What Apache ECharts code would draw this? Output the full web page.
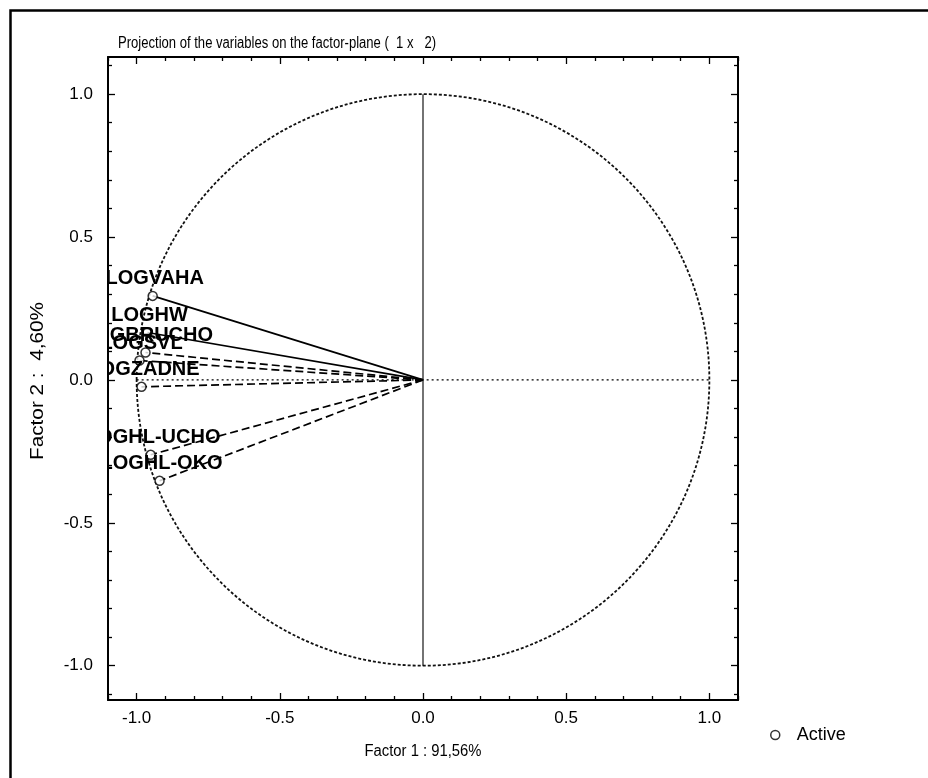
<!DOCTYPE html>
<html>
<head>
<meta charset="utf-8">
<script src="https://cdn.jsdelivr.net/npm/echarts@6/dist/echarts.min.js"></script>
<style>
  html, body { margin: 0; padding: 0; background: #fff; }
  #chart { width: 928px; height: 778px; }
</style>
</head>
<body>
<div id="chart"></div>
<script>
// Variable loadings on the first two factors
const variables = ['LOGVAHA', 'LOGHW', 'LOGBRUCHO', 'LOGSVL', 'LOGZADNE', 'LOGHL-UCHO', 'LOGHL-OKO'];
const factor1 = [-0.944, -0.962, -0.969, -0.990, -0.983, -0.951, -0.920];
const factor2 = [0.294, 0.166, 0.096, 0.068, -0.024, -0.262, -0.353];
const solidVectors = ['LOGVAHA', 'LOGHW'];

// Axis ticks and labels
const majorTicks = [-1.0, -0.5, 0.0, 0.5, 1.0];
const minorTicks = [-1.1, -0.9, -0.8, -0.7, -0.6, -0.4, -0.3, -0.2, -0.1,
                    0.1, 0.2, 0.3, 0.4, 0.6, 0.7, 0.8, 0.9, 1.1];

// Reference lines through the origin and the unit correlation circle
const horizontalAxisLine = [[-1, 0], [1, 0]];
const verticalAxisLine = [[0, 1], [0, -1]];
const unitCircle = [[0, 0, 1]];

const titleText = 'Projection of the variables on the factor-plane (  1 x   2)';
const xName = 'Factor 1 : 91,56%';
const yName = 'Factor 2 :  4,60%';
const legendName = 'Active';

const FONT = '"Liberation Sans", Arial, sans-serif';
const X_RANGE = [-1.1, 1.1];
const Y_RANGE = [-1.12, 1.13];

// Horizontal squeeze factor so a string fills a given width
const measureCtx = document.createElement('canvas').getContext('2d');
function squeeze(text, font, width) {
  measureCtx.font = font;
  return width / measureCtx.measureText(text).width;
}

function makeAxis(dim, position, ticks, tickLen, withLine, withLabels) {
  const range = dim === 'x' ? X_RANGE : Y_RANGE;
  return {
    type: 'value',
    position: position,
    min: range[0],
    max: range[1],
    splitLine: { show: false },
    axisLine: { show: withLine, onZero: false, lineStyle: { color: '#000', width: 2 } },
    axisTick: { show: true, inside: true, length: tickLen, customValues: ticks,
                lineStyle: { color: '#000', width: 1.3 } },
    axisLabel: withLabels ? {
      show: true, customValues: majorTicks, color: '#000', fontSize: 17, fontFamily: FONT,
      formatter: v => Number(v).toFixed(1),
      margin: dim === 'x' ? 10 : 15
    } : { show: false }
  };
}

const xAxes = [
  makeAxis('x', 'bottom', majorTicks, 7, true, true),
  makeAxis('x', 'bottom', minorTicks, 4, false, false),
  makeAxis('x', 'top', majorTicks, 7, true, false),
  makeAxis('x', 'top', minorTicks, 4, false, false)
];
const yAxes = [
  makeAxis('y', 'left', majorTicks, 7, true, true),
  makeAxis('y', 'left', minorTicks, 4, false, false),
  makeAxis('y', 'right', majorTicks, 7, true, false),
  makeAxis('y', 'right', minorTicks, 4, false, false)
];

const vectorSeries = variables.map((name, i) => ({
  type: 'line',
  name: name + ' vector',
  xAxisIndex: 0, yAxisIndex: 0,
  data: [[0, 0], [factor1[i], factor2[i]]],
  symbol: 'none',
  silent: true,
  z: 3,
  lineStyle: {
    color: '#000',
    width: 1.7,
    type: solidVectors.includes(name) ? 'solid' : [8, 4]
  }
}));

const LABEL_FONT = 'bold 20px ' + FONT;
const titleFont = '16px ' + FONT;
const xNameFont = '16px ' + FONT;
const yNameFont = '18px ' + FONT;

const option = {
  animation: false,
  backgroundColor: '#fff',
  grid: { left: 108, top: 57, width: 630, height: 643, containLabel: false },
  xAxis: xAxes,
  yAxis: yAxes,
  legend: {
    data: [legendName],
    left: 765, top: 721,
    itemWidth: 9, itemHeight: 9,
    itemStyle: { color: '#fff', borderColor: '#000', borderWidth: 1.5 },
    textStyle: { color: '#000', fontSize: 18, fontFamily: FONT, padding: [0, 0, 0, 12] }
  },
  graphic: [
    {
      type: 'rect', left: 8, top: 8, silent: true,
      shape: { width: 960, height: 800 },
      style: { fill: 'none', stroke: '#000', lineWidth: 2.5 }
    },
    {
      type: 'text', x: 118, y: 44, silent: true,
      scaleX: squeeze(titleText, titleFont, 318),
      style: { text: titleText, fill: '#000', font: titleFont,
               textAlign: 'left', textVerticalAlign: 'middle' }
    },
    {
      type: 'text', x: 423, y: 752, silent: true,
      scaleX: squeeze(xName, xNameFont, 117),
      style: { text: xName, fill: '#000', font: xNameFont,
               textAlign: 'center', textVerticalAlign: 'middle' }
    },
    {
      type: 'text', x: 38, y: 381, silent: true, rotation: Math.PI / 2,
      scaleX: squeeze(yName, yNameFont, 158),
      style: { text: yName, fill: '#000', font: yNameFont,
               textAlign: 'center', textVerticalAlign: 'middle' }
    }
  ],
  series: [
    {
      type: 'custom',
      name: 'circle',
      silent: true,
      data: unitCircle,
      z: 2,
      renderItem: (params, api) => {
        const c = api.coord([api.value(0), api.value(1)]);
        const s = api.size([api.value(2), api.value(2)]);
        return {
          type: 'ellipse',
          shape: { cx: c[0], cy: c[1], rx: s[0], ry: s[1] },
          style: { fill: 'none', stroke: '#111', lineWidth: 1.8, lineDash: [3, 2] }
        };
      }
    },
    {
      type: 'line', name: 'h-axis', silent: true, symbol: 'none', z: 2,
      data: horizontalAxisLine,
      lineStyle: { color: '#000', width: 1.3, type: [2, 3] }
    },
    {
      type: 'line', name: 'v-axis', silent: true, symbol: 'none', z: 2,
      data: verticalAxisLine,
      lineStyle: { color: '#000', width: 1.1 }
    },
    ...vectorSeries,
    {
      type: 'scatter',
      name: legendName,
      clip: true,
      z: 5,
      data: variables.map((name, i) => [factor1[i], factor2[i], name]),
      symbol: 'circle',
      symbolSize: 9,
      itemStyle: { color: '#fff', borderColor: '#000', borderWidth: 1.5 }
    },
    {
      // Variable names above each point, clipped to the plot frame
      type: 'custom',
      name: 'names',
      silent: true,
      clip: true,
      z: 6,
      data: variables.map((name, i) => [factor1[i], factor2[i], name]),
      renderItem: (params, api) => {
        const p = api.coord([api.value(0), api.value(1)]);
        return {
          type: 'text',
          x: p[0] + 2,
          y: p[1] - 17,
          style: {
            text: variables[params.dataIndex],
            font: LABEL_FONT,
            fill: '#000',
            textAlign: 'center',
            textVerticalAlign: 'middle'
          }
        };
      }
    }
  ]
};

const chart = echarts.init(document.getElementById('chart'), null, { renderer: 'canvas' });
chart.setOption(option);
</script>
</body>
</html>
